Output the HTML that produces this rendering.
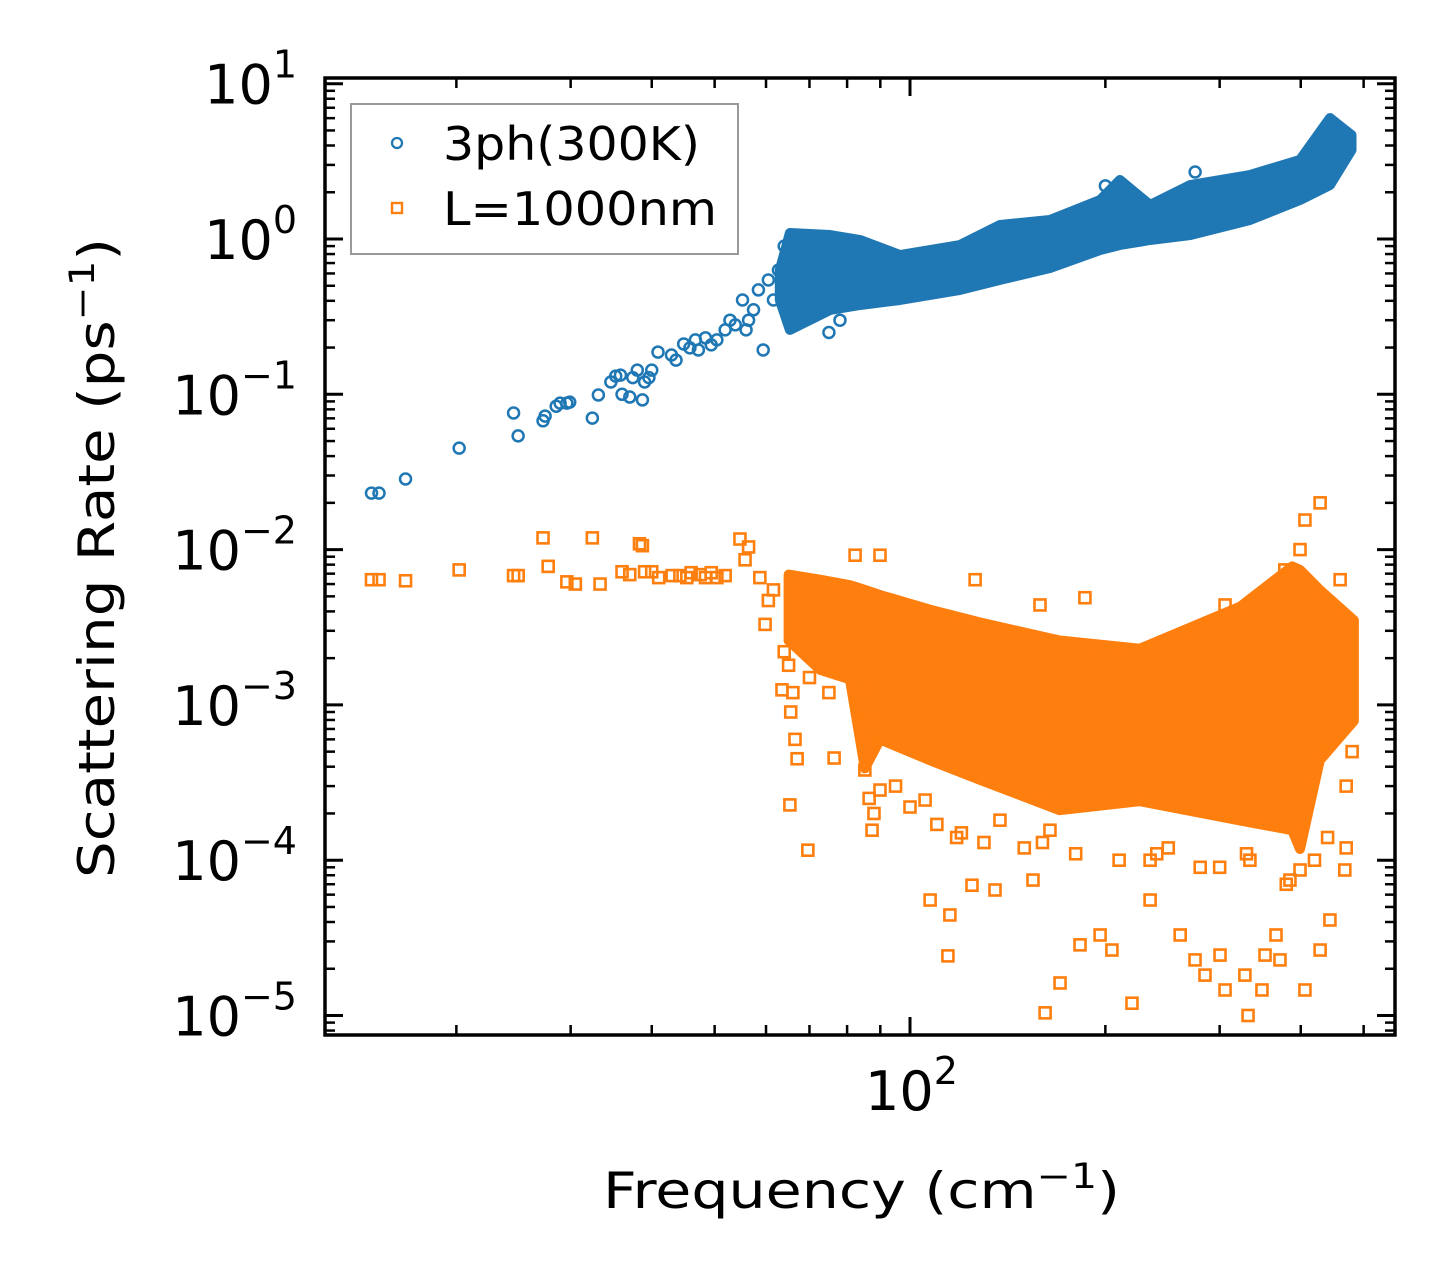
<!DOCTYPE html>
<html><head><meta charset="utf-8">
<style>
html,body{margin:0;padding:0;background:#fff;}
svg{display:block;font-family:"DejaVu Sans","Liberation Sans",sans-serif;}
</style></head>
<body>
<svg id="chart" width="1455" height="1285" viewBox="0 0 1455 1285" xmlns="http://www.w3.org/2000/svg">
<rect width="1455" height="1285" fill="#fff"/>
<g id="marks"></g>
<g id="axes"></g>
<g>
  <rect x="351" y="104" width="387" height="150" fill="#fff" stroke="#999" stroke-width="2"/>
  <circle cx="397" cy="143" r="5" fill="none" stroke="#1f77b4" stroke-width="2.3"/>
  <text x="443" y="160" font-size="46" textLength="257" lengthAdjust="spacingAndGlyphs">3ph(300K)</text>
  <rect x="392" y="203" width="10" height="10" fill="none" stroke="#ff7f0e" stroke-width="2.4"/>
  <text x="443" y="225" font-size="46" textLength="274" lengthAdjust="spacingAndGlyphs">L=1000nm</text>
</g>
<text x="603" y="1208" font-size="50" textLength="517" lengthAdjust="spacingAndGlyphs">Frequency (cm<tspan font-size="35" dy="-20">−1</tspan><tspan dy="20">)</tspan></text>
<text transform="translate(114,878) rotate(-90)" x="0" y="0" font-size="50" textLength="640" lengthAdjust="spacingAndGlyphs">Scattering Rate (ps<tspan font-size="35" dy="-20">−1</tspan><tspan dy="20">)</tspan></text>
</svg>
<script>
// ---- data ----
const blueFreq = [14.8,15.2,16.7,20.2,24.5,24.9,27.2,27.4,28.5,28.9,29.6,29.9,32.4,33.1,34.6,35.2,35.8,36.0,37.0,37.4,38.0,38.7,39.0,39.6,40.0,40.9,42.9,43.6,44.8,45.8,46.7,47.2,48.4,49.4,50.4,51.9,52.8,53.8,55.2,55.9,56.4,57.4,58.4,59.4,60.5,61.6,62.7,200,205,275,295,445,455,470,430,66,70,72,68,75,78,64,67];
const blueRate = [0.0231,0.0231,0.0285,0.045,0.0758,0.054,0.0675,0.0724,0.0838,0.0877,0.0877,0.089,0.0703,0.099,0.12,0.131,0.133,0.1,0.096,0.128,0.143,0.092,0.12,0.128,0.143,0.187,0.179,0.166,0.211,0.199,0.224,0.193,0.231,0.208,0.224,0.26,0.30,0.28,0.405,0.26,0.30,0.35,0.47,0.193,0.545,0.405,0.63,2.2,2.0,2.7,2.2,5.3,5.0,4.3,3.6,0.75,0.95,0.55,0.4,0.25,0.3,0.9,1.0];
const blueBandFreq = [63.0,65.3,75.3,83.8,96.5,119.4,137.6,164.3,196.3,210.6,234.4,270.3,334,399,443.7,479];
const blueBandHi = [0.631,1.093,1.061,0.985,0.789,0.915,1.231,1.326,1.783,2.398,1.655,2.227,2.581,3.232,6.01,4.67];
const blueBandLo = [0.405,0.26,0.349,0.376,0.405,0.47,0.545,0.651,0.85,0.915,0.985,1.061,1.326,1.783,2.227,3.74];

const orangeFreq = [14.8,15.2,16.7,20.2,24.5,24.9,27.2,27.7,29.6,30.5,32.4,33.3,36.0,37.0,38.3,38.7,39.0,40.0,41.0,43.0,44.2,45.3,46.0,47.5,48.4,49.4,50.4,51.9,54.7,55.7,56.4,58.7,59.8,60.5,61.6,
 65.3,69.6,63.5,76.4,83.8,85.2,87.4,89.9,105.5,114.4,115.2,107.4,124.6,135.2,154.7,161.5,170.3,182.8,196.3,204.7,219.8,234.4,260.8,274.9,284.8,300.4,305.8,328.1,331.8,348.6,352.4,366.4,371.6,399,406,428.5,443.7,467.7,137.6,164.3,234.4,334,385,
 428.5,406,399,378,460,305.8,186,158.6,126,89.9,82.3,
 65,66,65.5,66.5,67,86,87,88,86.5,95,100,110,118,130,150,180,210,250,280,330,380,470,470,480,64,70,75,120,160,240,300,420,440];
const orangeRate = [0.0064,0.0064,0.0063,0.0074,0.0068,0.0068,0.0119,0.0078,0.0062,0.006,0.0119,0.006,0.0072,0.0069,0.0109,0.0106,0.0072,0.0072,0.0066,0.0068,0.0068,0.0066,0.0071,0.0069,0.0066,0.0071,0.0066,0.0068,0.0117,0.0086,0.0104,0.0066,0.0033,0.0047,0.0055,
 0.000227,0.000116,0.00125,0.000455,0.00125,0.000381,0.000156,0.000283,0.000244,0.0000242,0.0000444,0.0000554,0.000069,0.0000643,0.0000745,0.0000104,0.0000162,0.0000285,0.000033,0.0000264,0.000012,0.0000554,0.000033,0.0000228,0.0000182,0.0000245,0.0000146,0.0000182,0.00001,0.0000146,0.0000245,0.000033,0.0000228,0.0000865,0.0000146,0.0000264,0.0000412,0.0000865,0.000181,0.000156,0.0001,0.0001,0.0000745,
 0.02,0.0155,0.01,0.0074,0.0064,0.0044,0.0049,0.0044,0.0064,0.0092,0.0092,
 0.0018,0.0012,0.0009,0.0006,0.00045,0.0008,0.0006,0.0002,0.00025,0.0003,0.00022,0.00017,0.00014,0.00013,0.00012,0.00011,0.0001,0.00012,0.00009,0.00011,0.00007,0.00012,0.0003,0.0005,0.0022,0.0015,0.0012,0.00015,0.00013,0.00011,0.00009,0.0001,0.00014];
const orangeBandFreq = [65.0,72.7,80.8,85.2,89.9,107.4,128,170,226,323,388,399,428,483];
const orangeBandHi = [0.0069,0.0064,0.0059,0.0055,0.0051,0.0041,0.0034,0.0026,0.0023,0.0043,0.0078,0.0074,0.0055,0.0035];
const orangeBandLo = [0.0026,0.00168,0.00146,0.00039,0.0006,0.00044,0.00033,0.00021,0.00024,0.00018,0.000156,0.000118,0.00044,0.00079];

const yTickExps = [1,0,-1,-2,-3,-4,-5];
const yTickLabels = ["1","0","−1","−2","−3","−4","−5"];
const xMinorTicks = [20,30,40,50,60,70,80,90,200,300,400,500];

// ---- axes ----
const L=325, R=1395, T=78, B=1035;
const X0=910, XD=649;
const Y0=239, YD=155.3;
function xs(f){return X0+XD*(Math.log10(f)-2);}
function ys(v){return Y0-YD*Math.log10(v);}

const NS="http://www.w3.org/2000/svg";
const marks=document.getElementById('marks');
const axes=document.getElementById('axes');
function mk(tag,attrs,parent){const e=document.createElementNS(NS,tag);for(const k in attrs)e.setAttribute(k,attrs[k]);parent.appendChild(e);return e;}

function band(fq,hi,lo,color,name){
  let pts=[];
  for(let i=0;i<fq.length;i++)pts.push(xs(fq[i]).toFixed(1)+','+ys(hi[i]).toFixed(1));
  for(let i=fq.length-1;i>=0;i--)pts.push(xs(fq[i]).toFixed(1)+','+ys(lo[i]).toFixed(1));
  const p=mk('polygon',{points:pts.join(' '),fill:color,stroke:color,'stroke-width':10,'stroke-linejoin':'round'},marks);
  
  
}
band(blueBandFreq,blueBandHi,blueBandLo,'#1f77b4','3ph-dense-cloud');
band(orangeBandFreq,orangeBandHi,orangeBandLo,'#ff7f0e','L1000nm-dense-cloud');

for(let i=0;i<orangeFreq.length;i++){
  const r=mk('rect',{x:xs(orangeFreq[i])-5.5,y:ys(orangeRate[i])-5.5,width:11,height:11,fill:'none',stroke:'#ff7f0e','stroke-width':2.6},marks);
  
  
}
for(let i=0;i<blueFreq.length;i++){
  const c=mk('circle',{cx:xs(blueFreq[i]),cy:ys(blueRate[i]),r:5.5,fill:'none',stroke:'#1f77b4','stroke-width':2.5},marks);
  
  
}

const frame=mk('rect',{x:L,y:T,width:R-L,height:B-T,fill:'none',stroke:'#000','stroke-width':3.5},axes);



for(let i=0;i<yTickExps.length;i++){
  const e=yTickExps[i];
  const y=ys(Math.pow(10,e));
  mk('line',{x1:L,x2:L+18,y1:y,y2:y,stroke:'#000','stroke-width':3},axes);
  mk('line',{x1:R,x2:R-18,y1:y,y2:y,stroke:'#000','stroke-width':3},axes);
  const t=mk('text',{x:297,y:y+20,'font-size':54,'text-anchor':'end'},axes);
  
  
  t.appendChild(document.createTextNode('10'));
  const s=mk('tspan',{'font-size':38,dy:-26},t);
  s.textContent=yTickLabels[i];
  for(let m=2;m<=9;m++){
    const yy=ys(m*Math.pow(10,e-1));
    if(yy<T||yy>B) continue;
    mk('line',{x1:L,x2:L+10,y1:yy,y2:yy,stroke:'#000','stroke-width':2.5},axes);
    mk('line',{x1:R,x2:R-10,y1:yy,y2:yy,stroke:'#000','stroke-width':2.5},axes);
  }
}
const xm=xs(100);
mk('line',{x1:xm,x2:xm,y1:B,y2:B-18,stroke:'#000','stroke-width':3},axes);
mk('line',{x1:xm,x2:xm,y1:T,y2:T+18,stroke:'#000','stroke-width':3},axes);
for(const f of xMinorTicks){
  const x=xs(f);
  if(x<L||x>R) continue;
  mk('line',{x1:x,x2:x,y1:B,y2:B-10,stroke:'#000','stroke-width':2.5},axes);
  mk('line',{x1:x,x2:x,y1:T,y2:T+10,stroke:'#000','stroke-width':2.5},axes);
}
const xt=mk('text',{x:xm-45,y:1110,'font-size':54},axes);


xt.appendChild(document.createTextNode('10'));
const xsup=mk('tspan',{'font-size':38,dy:-26},xt);
xsup.textContent='2';
</script>
</body></html>
